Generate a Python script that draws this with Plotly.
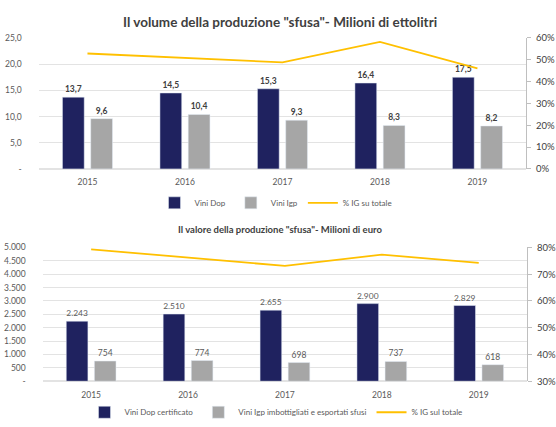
import plotly.graph_objects as go

# ---- data ----
years = ["2015", "2016", "2017", "2018", "2019"]

vol_dop = [13.7, 14.5, 15.3, 16.4, 17.5]
vol_igp = [9.6, 10.4, 9.3, 8.3, 8.2]
vol_ig_pct = [52.9, 50.7, 48.8, 58.2, 46.1]

val_dop = [2243, 2510, 2655, 2900, 2829]
val_igp = [754, 774, 698, 737, 618]
val_ig_pct = [79.3, 76.2, 73.1, 77.3, 74.2]

vol_left_ticks = [0, 5, 10, 15, 20, 25]
vol_left_text = ["-", "5,0", "10,0", "15,0", "20,0", "25,0"]
vol_right_ticks = [0, 10, 20, 30, 40, 50, 60]
vol_right_text = ["0%", "10%", "20%", "30%", "40%", "50%", "60%"]

val_left_ticks = list(range(0, 5001, 500))
val_left_text = ["-", "500", "1.000", "1.500", "2.000", "2.500", "3.000",
                 "3.500", "4.000", "4.500", "5.000"]
val_right_ticks = [30, 40, 50, 60, 70, 80]
val_right_text = ["30%", "40%", "50%", "60%", "70%", "80%"]

# ---- style ----
NAVY = "#1F225F"
GREY = "#A6A6A6"
GOLD = "#FFC000"
TXT = "#595959"
GRID = "#E3E3E3"
FONT = "Lato"

W, H = 556, 427


def px_x(a, b):
    return [a / W, b / W]


def px_y(top, bottom):
    return [1 - bottom / H, 1 - top / H]


fig = go.Figure()

# ---- volume chart ----
fig.add_trace(go.Bar(
    x=years, y=vol_dop, name="Vini Dop", marker_color=NAVY,
    xaxis="x", yaxis="y", legend="legend",
    texttemplate="%{y:.1f}", textposition="outside",
    textfont=dict(family=FONT, size=8.5, color="#404040", weight="bold"),
    cliponaxis=False,
))
fig.add_trace(go.Bar(
    x=years, y=vol_igp, name="Vini Igp", marker_color=GREY,
    xaxis="x", yaxis="y", legend="legend",
    texttemplate="%{y:.1f}", textposition="outside",
    textfont=dict(family=FONT, size=8.5, color="#404040", weight="bold"),
    cliponaxis=False,
))
fig.add_trace(go.Scatter(
    x=years, y=vol_ig_pct, name="% IG su totale", mode="lines",
    line=dict(color=GOLD, width=1.8),
    xaxis="x", yaxis="y2", legend="legend",
))

# ---- value chart ----
fig.add_trace(go.Bar(
    x=years, y=val_dop, name="Vini Dop certificato", marker_color=NAVY,
    xaxis="x2", yaxis="y3", legend="legend2",
    texttemplate="%{y:,.0f}", textposition="outside",
    textfont=dict(family=FONT, size=8.5, color=TXT),
    cliponaxis=False,
))
fig.add_trace(go.Bar(
    x=years, y=val_igp, name="Vini Igp imbottigliati e esportati sfusi",
    marker_color=GREY,
    xaxis="x2", yaxis="y3", legend="legend2",
    texttemplate="%{y:,.0f}", textposition="outside",
    textfont=dict(family=FONT, size=8.5, color=TXT),
    cliponaxis=False,
))
fig.add_trace(go.Scatter(
    x=years, y=val_ig_pct, name="% IG sul totale", mode="lines",
    line=dict(color=GOLD, width=1.8),
    xaxis="x2", yaxis="y4", legend="legend2",
))

tickfont = dict(family=FONT, size=8.5, color=TXT)
rightfont = dict(family=FONT, size=9.5, color="#404040")

fig.update_layout(
    width=W, height=H,
    margin=dict(l=0, r=0, t=0, b=0),
    paper_bgcolor="white", plot_bgcolor="white",
    separators=",.",
    barmode="group", bargap=0.42, bargroupgap=0.23,
    font=dict(family=FONT, color=TXT),
    showlegend=True,
    xaxis=dict(domain=px_x(39, 530), anchor="y", type="category",
               showline=False, showgrid=False, ticks="",
               tickfont=tickfont, ticklabelstandoff=7),
    yaxis=dict(domain=px_y(33, 168), anchor="x", range=[0, 25],
               tickvals=vol_left_ticks, ticktext=vol_left_text,
               showgrid=True, gridcolor=GRID, gridwidth=1,
               zeroline=True, zerolinecolor=GRID, showline=False,
               tickfont=tickfont, ticklabelstandoff=16),
    yaxis2=dict(overlaying="y", side="right", anchor="x", range=[0, 60],
                tickvals=vol_right_ticks, ticktext=vol_right_text,
                showgrid=False, zeroline=False,
                showline=True, linecolor="#BFBFBF", linewidth=1,
                ticks="outside", ticklen=4, tickcolor="#BFBFBF",
                tickfont=rightfont, ticklabelstandoff=3),
    xaxis2=dict(domain=px_x(43, 531), anchor="y3", type="category",
                showline=False, showgrid=False, ticks="",
                tickfont=tickfont, ticklabelstandoff=7),
    yaxis3=dict(domain=px_y(249, 387), anchor="x2", range=[0, 5000],
                tickvals=val_left_ticks, ticktext=val_left_text,
                showgrid=True, gridcolor=GRID, gridwidth=1,
                zeroline=True, zerolinecolor=GRID, showline=False,
                tickfont=tickfont, ticklabelstandoff=16),
    yaxis4=dict(overlaying="y3", side="right", anchor="x2", range=[30, 80],
                tickvals=val_right_ticks, ticktext=val_right_text,
                showgrid=False, zeroline=False,
                showline=True, linecolor="#BFBFBF", linewidth=1,
                ticks="outside", ticklen=4, tickcolor="#BFBFBF",
                tickfont=rightfont, ticklabelstandoff=3),
    legend=dict(orientation="h", x=0.5, xanchor="center",
                y=1 - 203 / H, yanchor="middle",
                font=dict(family=FONT, size=8, color=TXT),
                itemwidth=30, tracegroupgap=0, bgcolor="rgba(0,0,0,0)"),
    legend2=dict(orientation="h", x=0.5, xanchor="center",
                 y=1 - 419 / H, yanchor="middle",
                 font=dict(family=FONT, size=8, color=TXT),
                 itemwidth=30, tracegroupgap=0, bgcolor="rgba(0,0,0,0)"),
    annotations=[
        dict(text="<b>Il volume della produzione \"sfusa\"- Milioni di ettolitri</b>",
             x=0.507, y=1 - 16 / H, xref="paper", yref="paper",
             xanchor="center", yanchor="middle", showarrow=False,
             font=dict(family=FONT, size=13.5, color="#404040")),
        dict(text="<b>Il valore della produzione \"sfusa\"- Milioni di euro</b>",
             x=0.507, y=1 - 231 / H, xref="paper", yref="paper",
             xanchor="center", yanchor="middle", showarrow=False,
             font=dict(family=FONT, size=9.5, color="#404040")),
    ],
)

fig.write_html("out.html")
